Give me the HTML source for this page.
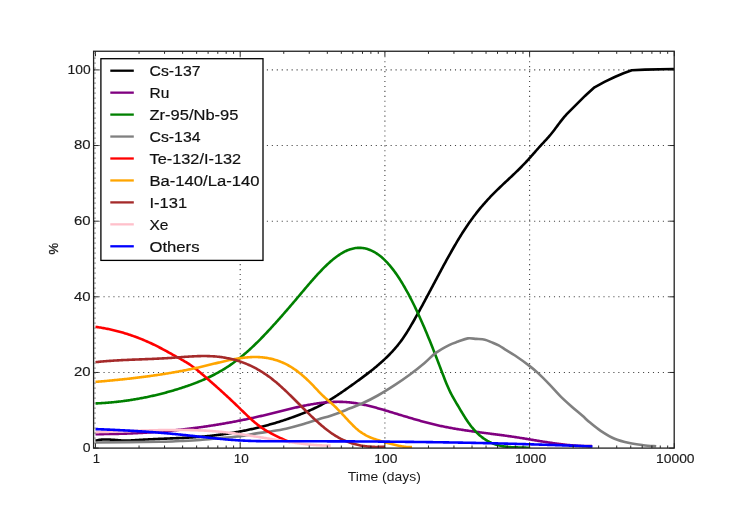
<!DOCTYPE html><html><head><meta charset="utf-8"><style>html,body{margin:0;padding:0;background:#fff;}svg{display:block;will-change:transform}</style></head><body>
<svg width="749" height="512" viewBox="0 0 749 512" font-family='"Liberation Sans", sans-serif'>
<rect width="749" height="512" fill="#fff"/>
<g stroke="#444" stroke-width="1.1" stroke-dasharray="1.1 3.85"><line x1="240.20" y1="51.25" x2="240.20" y2="448.1"/><line x1="384.90" y1="51.25" x2="384.90" y2="448.1"/><line x1="529.60" y1="51.25" x2="529.60" y2="448.1"/><line x1="93.6" y1="372.46" x2="674.2" y2="372.46"/><line x1="93.6" y1="296.82" x2="674.2" y2="296.82"/><line x1="93.6" y1="221.18" x2="674.2" y2="221.18"/><line x1="93.6" y1="145.54" x2="674.2" y2="145.54"/><line x1="93.6" y1="69.90" x2="674.2" y2="69.90"/></g>
<defs><clipPath id="ax"><rect x="93.6" y="51.25" width="580.6" height="396.85"/></clipPath></defs>
<g clip-path="url(#ax)" fill="none" stroke-width="2.6" stroke-linejoin="round" stroke-linecap="butt">
<path d="M95.50,440.70 L96.50,440.45 L97.50,440.22 L98.50,440.03 L99.50,439.87 L100.50,439.74 L101.50,439.64 L102.50,439.56 L103.50,439.51 L104.50,439.47 L105.50,439.46 L106.50,439.47 L107.50,439.49 L108.50,439.52 L109.50,439.57 L110.50,439.62 L111.50,439.69 L112.50,439.76 L113.50,439.84 L114.50,439.92 L115.50,440.01 L116.50,440.09 L117.50,440.17 L118.50,440.24 L119.50,440.31 L120.50,440.38 L121.50,440.43 L122.50,440.47 L123.50,440.50 L124.50,440.52 L125.50,440.52 L126.50,440.52 L127.50,440.51 L128.50,440.49 L129.50,440.46 L130.50,440.43 L131.50,440.39 L132.50,440.34 L133.50,440.29 L134.50,440.23 L135.50,440.17 L136.50,440.11 L137.50,440.05 L138.50,439.98 L139.50,439.92 L140.50,439.85 L141.50,439.79 L142.50,439.72 L143.50,439.66 L144.50,439.60 L145.50,439.54 L146.50,439.49 L147.50,439.43 L148.50,439.38 L149.50,439.32 L150.50,439.27 L151.50,439.22 L152.50,439.18 L153.50,439.13 L154.50,439.08 L155.50,439.04 L156.50,438.99 L157.50,438.95 L158.50,438.91 L159.50,438.86 L160.50,438.82 L161.50,438.78 L162.50,438.74 L163.50,438.70 L164.50,438.66 L165.50,438.62 L166.50,438.58 L167.50,438.54 L168.50,438.50 L169.50,438.46 L170.50,438.42 L171.50,438.38 L172.50,438.34 L173.50,438.30 L174.50,438.26 L175.50,438.21 L176.50,438.17 L177.50,438.13 L178.50,438.08 L179.50,438.04 L180.50,437.99 L181.50,437.95 L182.50,437.90 L183.50,437.85 L184.50,437.80 L185.50,437.75 L186.50,437.69 L187.50,437.64 L188.50,437.58 L189.50,437.53 L190.50,437.47 L191.50,437.40 L192.50,437.34 L193.50,437.28 L194.50,437.21 L195.50,437.14 L196.50,437.07 L197.50,437.00 L198.50,436.92 L199.50,436.84 L200.50,436.76 L201.50,436.68 L202.50,436.60 L203.50,436.51 L204.50,436.42 L205.50,436.32 L206.50,436.23 L207.50,436.13 L208.50,436.03 L209.50,435.93 L210.50,435.82 L211.50,435.71 L212.50,435.60 L213.50,435.49 L214.50,435.37 L215.50,435.26 L216.50,435.13 L217.50,435.01 L218.50,434.88 L219.50,434.75 L220.50,434.62 L221.50,434.49 L222.50,434.35 L223.50,434.21 L224.50,434.07 L225.50,433.92 L226.50,433.77 L227.50,433.62 L228.50,433.47 L229.50,433.31 L230.50,433.15 L231.50,432.99 L232.50,432.83 L233.50,432.66 L234.50,432.49 L235.50,432.31 L236.50,432.14 L237.50,431.96 L238.50,431.77 L239.50,431.59 L240.50,431.40 L241.50,431.21 L242.50,431.01 L243.50,430.82 L244.50,430.62 L245.50,430.41 L246.50,430.21 L247.50,430.00 L248.50,429.79 L249.50,429.57 L250.50,429.35 L251.50,429.13 L252.50,428.91 L253.50,428.68 L254.50,428.45 L255.50,428.22 L256.50,427.98 L257.50,427.74 L258.50,427.50 L259.50,427.25 L260.50,427.00 L261.50,426.75 L262.50,426.49 L263.50,426.24 L264.50,425.97 L265.50,425.71 L266.50,425.44 L267.50,425.17 L268.50,424.89 L269.50,424.61 L270.50,424.33 L271.50,424.05 L272.50,423.76 L273.50,423.47 L274.50,423.17 L275.50,422.88 L276.50,422.57 L277.50,422.27 L278.50,421.96 L279.50,421.65 L280.50,421.33 L281.50,421.02 L282.50,420.69 L283.50,420.37 L284.50,420.04 L285.50,419.71 L286.50,419.37 L287.50,419.03 L288.50,418.69 L289.50,418.35 L290.50,418.00 L291.50,417.64 L292.50,417.29 L293.50,416.93 L294.50,416.56 L295.50,416.20 L296.50,415.82 L297.50,415.45 L298.50,415.07 L299.50,414.69 L300.50,414.30 L301.50,413.90 L302.50,413.51 L303.50,413.10 L304.50,412.69 L305.50,412.28 L306.50,411.86 L307.50,411.43 L308.50,411.00 L309.50,410.56 L310.50,410.12 L311.50,409.67 L312.50,409.21 L313.50,408.74 L314.50,408.27 L315.50,407.79 L316.50,407.30 L317.50,406.81 L318.50,406.31 L319.50,405.79 L320.50,405.27 L321.50,404.75 L322.50,404.21 L323.50,403.66 L324.50,403.11 L325.50,402.54 L326.50,401.97 L327.50,401.39 L328.50,400.79 L329.50,400.19 L330.50,399.58 L331.50,398.96 L332.50,398.34 L333.50,397.71 L334.50,397.06 L335.50,396.42 L336.50,395.76 L337.50,395.10 L338.50,394.44 L339.50,393.76 L340.50,393.09 L341.50,392.40 L342.50,391.71 L343.50,391.02 L344.50,390.33 L345.50,389.63 L346.50,388.92 L347.50,388.22 L348.50,387.51 L349.50,386.80 L350.50,386.08 L351.50,385.37 L352.50,384.65 L353.50,383.93 L354.50,383.21 L355.50,382.49 L356.50,381.77 L357.50,381.04 L358.50,380.32 L359.50,379.59 L360.50,378.86 L361.50,378.12 L362.50,377.39 L363.50,376.64 L364.50,375.90 L365.50,375.14 L366.50,374.39 L367.50,373.62 L368.50,372.85 L369.50,372.08 L370.50,371.29 L371.50,370.50 L372.50,369.71 L373.50,368.90 L374.50,368.08 L375.50,367.26 L376.50,366.42 L377.50,365.58 L378.50,364.72 L379.50,363.86 L380.50,362.98 L381.50,362.09 L382.50,361.19 L383.50,360.28 L384.50,359.35 L385.50,358.41 L386.50,357.45 L387.50,356.48 L388.50,355.50 L389.50,354.49 L390.50,353.46 L391.50,352.41 L392.50,351.34 L393.50,350.24 L394.50,349.11 L395.50,347.96 L396.50,346.77 L397.50,345.56 L398.50,344.31 L399.50,343.03 L400.50,341.71 L401.50,340.36 L402.50,338.96 L403.50,337.53 L404.50,336.05 L405.50,334.53 L406.50,332.98 L407.50,331.38 L408.50,329.75 L409.50,328.10 L410.50,326.41 L411.50,324.71 L412.50,322.98 L413.50,321.24 L414.50,319.49 L415.50,317.72 L416.50,315.94 L417.50,314.14 L418.50,312.34 L419.50,310.52 L420.50,308.70 L421.50,306.87 L422.50,305.02 L423.50,303.18 L424.50,301.32 L425.50,299.46 L426.50,297.59 L427.50,295.72 L428.50,293.84 L429.50,291.96 L430.50,290.08 L431.50,288.20 L432.50,286.31 L433.50,284.43 L434.50,282.54 L435.50,280.66 L436.50,278.78 L437.50,276.90 L438.50,275.02 L439.50,273.15 L440.50,271.28 L441.50,269.42 L442.50,267.56 L443.50,265.71 L444.50,263.87 L445.50,262.04 L446.50,260.21 L447.50,258.40 L448.50,256.59 L449.50,254.80 L450.50,253.02 L451.50,251.25 L452.50,249.49 L453.50,247.75 L454.50,246.02 L455.50,244.31 L456.50,242.61 L457.50,240.93 L458.50,239.27 L459.50,237.63 L460.50,236.00 L461.50,234.40 L462.50,232.82 L463.50,231.25 L464.50,229.71 L465.50,228.19 L466.50,226.70 L467.50,225.22 L468.50,223.77 L469.50,222.34 L470.50,220.93 L471.50,219.55 L472.50,218.18 L473.50,216.83 L474.50,215.51 L475.50,214.20 L476.50,212.91 L477.50,211.65 L478.50,210.40 L479.50,209.16 L480.50,207.95 L481.50,206.75 L482.50,205.58 L483.50,204.41 L484.50,203.27 L485.50,202.14 L486.50,201.02 L487.50,199.93 L488.50,198.84 L489.50,197.77 L490.50,196.72 L491.50,195.68 L492.50,194.65 L493.50,193.63 L494.50,192.63 L495.50,191.63 L496.50,190.64 L497.50,189.67 L498.50,188.70 L499.50,187.73 L500.50,186.78 L501.50,185.82 L502.50,184.88 L503.50,183.93 L504.50,182.99 L505.50,182.06 L506.50,181.12 L507.50,180.19 L508.50,179.25 L509.50,178.31 L510.50,177.38 L511.50,176.44 L512.50,175.49 L513.50,174.55 L514.50,173.59 L515.50,172.64 L516.50,171.67 L517.50,170.70 L518.50,169.72 L519.50,168.73 L520.50,167.74 L521.50,166.73 L522.50,165.71 L523.50,164.68 L524.50,163.64 L525.50,162.58 L526.50,161.51 L527.50,160.43 L528.50,159.33 L529.50,158.21 L530.50,157.09 L531.50,155.96 L532.50,154.82 L533.50,153.68 L534.50,152.53 L535.50,151.39 L536.50,150.26 L537.50,149.12 L538.50,148.00 L539.50,146.89 L540.50,145.80 L541.50,144.71 L542.50,143.63 L543.50,142.56 L544.50,141.48 L545.50,140.40 L546.50,139.31 L547.50,138.20 L548.50,137.07 L549.50,135.92 L550.50,134.74 L551.50,133.52 L552.50,132.27 L553.50,130.98 L554.50,129.67 L555.50,128.33 L556.50,126.98 L557.50,125.63 L558.50,124.28 L559.50,122.94 L560.50,121.62 L561.50,120.33 L562.50,119.08 L563.50,117.87 L564.50,116.71 L565.50,115.58 L566.50,114.48 L567.50,113.41 L568.50,112.36 L569.50,111.34 L570.50,110.33 L571.50,109.33 L572.50,108.33 L573.50,107.34 L574.50,106.34 L575.50,105.34 L576.50,104.33 L577.50,103.33 L578.50,102.33 L579.50,101.32 L580.50,100.33 L581.50,99.34 L582.50,98.35 L583.50,97.38 L584.50,96.42 L585.50,95.47 L586.00,95.00 L594.50,87.30 L604.50,81.90 L614.70,77.00 L623.50,73.30 L631.80,70.20 L645.00,69.60 L674.00,69.00" stroke="#000000"/>
<path d="M95.50,434.09 L96.50,434.09 L97.50,434.10 L98.50,434.09 L99.50,434.09 L100.50,434.09 L101.50,434.09 L102.50,434.08 L103.50,434.08 L104.50,434.07 L105.50,434.06 L106.50,434.05 L107.50,434.04 L108.50,434.03 L109.50,434.01 L110.50,434.00 L111.50,433.98 L112.50,433.96 L113.50,433.94 L114.50,433.92 L115.50,433.90 L116.50,433.88 L117.50,433.86 L118.50,433.83 L119.50,433.80 L120.50,433.78 L121.50,433.75 L122.50,433.72 L123.50,433.69 L124.50,433.65 L125.50,433.62 L126.50,433.58 L127.50,433.55 L128.50,433.51 L129.50,433.47 L130.50,433.43 L131.50,433.39 L132.50,433.34 L133.50,433.30 L134.50,433.25 L135.50,433.21 L136.50,433.16 L137.50,433.11 L138.50,433.06 L139.50,433.00 L140.50,432.95 L141.50,432.89 L142.50,432.84 L143.50,432.78 L144.50,432.72 L145.50,432.66 L146.50,432.60 L147.50,432.54 L148.50,432.47 L149.50,432.41 L150.50,432.34 L151.50,432.27 L152.50,432.20 L153.50,432.13 L154.50,432.06 L155.50,431.98 L156.50,431.91 L157.50,431.83 L158.50,431.75 L159.50,431.67 L160.50,431.59 L161.50,431.51 L162.50,431.42 L163.50,431.34 L164.50,431.25 L165.50,431.17 L166.50,431.08 L167.50,430.99 L168.50,430.89 L169.50,430.80 L170.50,430.71 L171.50,430.61 L172.50,430.51 L173.50,430.41 L174.50,430.31 L175.50,430.21 L176.50,430.11 L177.50,430.00 L178.50,429.90 L179.50,429.79 L180.50,429.68 L181.50,429.57 L182.50,429.46 L183.50,429.34 L184.50,429.23 L185.50,429.11 L186.50,429.00 L187.50,428.88 L188.50,428.76 L189.50,428.63 L190.50,428.51 L191.50,428.39 L192.50,428.26 L193.50,428.13 L194.50,428.00 L195.50,427.87 L196.50,427.74 L197.50,427.61 L198.50,427.47 L199.50,427.33 L200.50,427.20 L201.50,427.06 L202.50,426.92 L203.50,426.77 L204.50,426.63 L205.50,426.48 L206.50,426.34 L207.50,426.19 L208.50,426.04 L209.50,425.89 L210.50,425.73 L211.50,425.58 L212.50,425.42 L213.50,425.27 L214.50,425.11 L215.50,424.95 L216.50,424.78 L217.50,424.62 L218.50,424.46 L219.50,424.29 L220.50,424.12 L221.50,423.95 L222.50,423.78 L223.50,423.61 L224.50,423.43 L225.50,423.26 L226.50,423.08 L227.50,422.90 L228.50,422.72 L229.50,422.54 L230.50,422.35 L231.50,422.17 L232.50,421.98 L233.50,421.79 L234.50,421.60 L235.50,421.41 L236.50,421.22 L237.50,421.03 L238.50,420.83 L239.50,420.63 L240.50,420.43 L241.50,420.23 L242.50,420.03 L243.50,419.83 L244.50,419.62 L245.50,419.41 L246.50,419.20 L247.50,418.99 L248.50,418.78 L249.50,418.57 L250.50,418.35 L251.50,418.14 L252.50,417.92 L253.50,417.70 L254.50,417.48 L255.50,417.25 L256.50,417.03 L257.50,416.80 L258.50,416.57 L259.50,416.34 L260.50,416.11 L261.50,415.88 L262.50,415.64 L263.50,415.41 L264.50,415.17 L265.50,414.93 L266.50,414.69 L267.50,414.45 L268.50,414.20 L269.50,413.96 L270.50,413.71 L271.50,413.46 L272.50,413.22 L273.50,412.97 L274.50,412.72 L275.50,412.47 L276.50,412.22 L277.50,411.97 L278.50,411.72 L279.50,411.47 L280.50,411.22 L281.50,410.97 L282.50,410.72 L283.50,410.47 L284.50,410.22 L285.50,409.97 L286.50,409.73 L287.50,409.48 L288.50,409.24 L289.50,409.00 L290.50,408.76 L291.50,408.52 L292.50,408.28 L293.50,408.05 L294.50,407.82 L295.50,407.59 L296.50,407.36 L297.50,407.13 L298.50,406.91 L299.50,406.69 L300.50,406.48 L301.50,406.26 L302.50,406.05 L303.50,405.85 L304.50,405.64 L305.50,405.44 L306.50,405.25 L307.50,405.06 L308.50,404.87 L309.50,404.68 L310.50,404.51 L311.50,404.33 L312.50,404.16 L313.50,404.00 L314.50,403.84 L315.50,403.68 L316.50,403.53 L317.50,403.39 L318.50,403.25 L319.50,403.11 L320.50,402.99 L321.50,402.86 L322.50,402.75 L323.50,402.64 L324.50,402.53 L325.50,402.44 L326.50,402.35 L327.50,402.26 L328.50,402.19 L329.50,402.11 L330.50,402.05 L331.50,402.00 L332.50,401.95 L333.50,401.91 L334.50,401.87 L335.50,401.85 L336.50,401.83 L337.50,401.82 L338.50,401.82 L339.50,401.83 L340.50,401.84 L341.50,401.87 L342.50,401.90 L343.50,401.94 L344.50,401.99 L345.50,402.05 L346.50,402.12 L347.50,402.20 L348.50,402.29 L349.50,402.38 L350.50,402.49 L351.50,402.61 L352.50,402.73 L353.50,402.87 L354.50,403.01 L355.50,403.16 L356.50,403.32 L357.50,403.49 L358.50,403.66 L359.50,403.84 L360.50,404.03 L361.50,404.23 L362.50,404.43 L363.50,404.64 L364.50,404.86 L365.50,405.08 L366.50,405.31 L367.50,405.54 L368.50,405.78 L369.50,406.03 L370.50,406.28 L371.50,406.53 L372.50,406.79 L373.50,407.05 L374.50,407.32 L375.50,407.59 L376.50,407.86 L377.50,408.14 L378.50,408.42 L379.50,408.71 L380.50,408.99 L381.50,409.28 L382.50,409.57 L383.50,409.87 L384.50,410.16 L385.50,410.46 L386.50,410.76 L387.50,411.06 L388.50,411.36 L389.50,411.66 L390.50,411.97 L391.50,412.27 L392.50,412.57 L393.50,412.88 L394.50,413.18 L395.50,413.49 L396.50,413.79 L397.50,414.10 L398.50,414.40 L399.50,414.70 L400.50,415.01 L401.50,415.31 L402.50,415.62 L403.50,415.92 L404.50,416.22 L405.50,416.52 L406.50,416.82 L407.50,417.12 L408.50,417.42 L409.50,417.72 L410.50,418.02 L411.50,418.31 L412.50,418.61 L413.50,418.90 L414.50,419.19 L415.50,419.48 L416.50,419.77 L417.50,420.05 L418.50,420.33 L419.50,420.62 L420.50,420.90 L421.50,421.17 L422.50,421.45 L423.50,421.72 L424.50,421.99 L425.50,422.26 L426.50,422.52 L427.50,422.79 L428.50,423.05 L429.50,423.30 L430.50,423.55 L431.50,423.80 L432.50,424.05 L433.50,424.29 L434.50,424.54 L435.50,424.77 L436.50,425.00 L437.50,425.23 L438.50,425.46 L439.50,425.68 L440.50,425.90 L441.50,426.11 L442.50,426.32 L443.50,426.53 L444.50,426.73 L445.50,426.94 L446.50,427.13 L447.50,427.33 L448.50,427.52 L449.50,427.71 L450.50,427.89 L451.50,428.07 L452.50,428.25 L453.50,428.43 L454.50,428.60 L455.50,428.77 L456.50,428.94 L457.50,429.11 L458.50,429.27 L459.50,429.43 L460.50,429.59 L461.50,429.75 L462.50,429.90 L463.50,430.06 L464.50,430.21 L465.50,430.36 L466.50,430.50 L467.50,430.65 L468.50,430.80 L469.50,430.94 L470.50,431.08 L471.50,431.22 L472.50,431.36 L473.50,431.49 L474.50,431.63 L475.50,431.77 L476.50,431.90 L477.50,432.03 L478.50,432.16 L479.50,432.30 L480.50,432.43 L481.50,432.56 L482.50,432.69 L483.50,432.81 L484.50,432.94 L485.50,433.07 L486.50,433.20 L487.50,433.33 L488.50,433.45 L489.50,433.58 L490.50,433.71 L491.50,433.84 L492.50,433.96 L493.50,434.09 L494.50,434.22 L495.50,434.35 L496.50,434.48 L497.50,434.61 L498.50,434.74 L499.50,434.87 L500.50,435.00 L501.50,435.14 L502.50,435.27 L503.50,435.40 L504.50,435.54 L505.50,435.68 L506.50,435.81 L507.50,435.95 L508.50,436.10 L509.50,436.24 L510.50,436.38 L511.50,436.53 L512.50,436.67 L513.50,436.82 L514.50,436.97 L515.50,437.13 L516.50,437.28 L517.50,437.43 L518.50,437.59 L519.50,437.75 L520.50,437.91 L521.50,438.07 L522.50,438.23 L523.50,438.39 L524.50,438.56 L525.50,438.72 L526.50,438.89 L527.50,439.05 L528.50,439.22 L529.50,439.38 L530.50,439.55 L531.50,439.71 L532.50,439.88 L533.50,440.05 L534.50,440.21 L535.50,440.38 L536.50,440.54 L537.50,440.71 L538.50,440.87 L539.50,441.03 L540.50,441.20 L541.50,441.36 L542.50,441.52 L543.50,441.68 L544.50,441.84 L545.50,441.99 L546.50,442.15 L547.50,442.30 L548.50,442.46 L549.50,442.61 L550.50,442.76 L551.50,442.90 L552.50,443.05 L553.50,443.19 L554.50,443.33 L555.50,443.47 L556.50,443.61 L557.50,443.74 L558.50,443.87 L559.50,444.00 L560.50,444.13 L561.50,444.25 L562.50,444.37 L563.50,444.49 L564.50,444.60 L565.50,444.71 L566.50,444.82 L567.50,444.92 L568.50,445.02 L569.50,445.12 L570.50,445.21 L571.50,445.30 L572.50,445.38 L573.50,445.46 L574.50,445.54 L575.50,445.61 L576.50,445.68 L577.50,445.74 L578.50,445.80 L579.50,445.86 L580.50,445.90 L581.50,445.95 L582.50,445.99 L583.50,446.02 L584.50,446.05 L585.50,446.07 L586.50,446.09 L587.50,446.11 L588.50,446.11 L589.50,446.11 L590.50,446.11 L591.50,446.10 L592.10,446.09" stroke="#800080"/>
<path d="M95.50,403.43 L96.50,403.39 L97.50,403.35 L98.50,403.30 L99.50,403.25 L100.50,403.19 L101.50,403.13 L102.50,403.07 L103.50,403.01 L104.50,402.94 L105.50,402.87 L106.50,402.79 L107.50,402.72 L108.50,402.64 L109.50,402.55 L110.50,402.46 L111.50,402.37 L112.50,402.28 L113.50,402.18 L114.50,402.08 L115.50,401.98 L116.50,401.87 L117.50,401.76 L118.50,401.65 L119.50,401.53 L120.50,401.42 L121.50,401.29 L122.50,401.17 L123.50,401.04 L124.50,400.91 L125.50,400.77 L126.50,400.63 L127.50,400.49 L128.50,400.34 L129.50,400.19 L130.50,400.04 L131.50,399.89 L132.50,399.73 L133.50,399.57 L134.50,399.40 L135.50,399.23 L136.50,399.06 L137.50,398.89 L138.50,398.71 L139.50,398.53 L140.50,398.34 L141.50,398.15 L142.50,397.96 L143.50,397.77 L144.50,397.57 L145.50,397.37 L146.50,397.16 L147.50,396.96 L148.50,396.75 L149.50,396.53 L150.50,396.31 L151.50,396.09 L152.50,395.87 L153.50,395.64 L154.50,395.41 L155.50,395.18 L156.50,394.94 L157.50,394.70 L158.50,394.45 L159.50,394.21 L160.50,393.95 L161.50,393.70 L162.50,393.44 L163.50,393.18 L164.50,392.92 L165.50,392.65 L166.50,392.38 L167.50,392.11 L168.50,391.83 L169.50,391.55 L170.50,391.26 L171.50,390.98 L172.50,390.69 L173.50,390.39 L174.50,390.09 L175.50,389.79 L176.50,389.49 L177.50,389.18 L178.50,388.87 L179.50,388.56 L180.50,388.24 L181.50,387.92 L182.50,387.59 L183.50,387.26 L184.50,386.93 L185.50,386.60 L186.50,386.26 L187.50,385.91 L188.50,385.57 L189.50,385.21 L190.50,384.86 L191.50,384.50 L192.50,384.13 L193.50,383.76 L194.50,383.38 L195.50,383.00 L196.50,382.61 L197.50,382.21 L198.50,381.81 L199.50,381.41 L200.50,381.00 L201.50,380.58 L202.50,380.15 L203.50,379.72 L204.50,379.28 L205.50,378.83 L206.50,378.38 L207.50,377.92 L208.50,377.45 L209.50,376.97 L210.50,376.49 L211.50,376.00 L212.50,375.49 L213.50,374.98 L214.50,374.47 L215.50,373.94 L216.50,373.40 L217.50,372.86 L218.50,372.31 L219.50,371.74 L220.50,371.17 L221.50,370.59 L222.50,369.99 L223.50,369.39 L224.50,368.78 L225.50,368.15 L226.50,367.52 L227.50,366.87 L228.50,366.22 L229.50,365.55 L230.50,364.87 L231.50,364.18 L232.50,363.48 L233.50,362.77 L234.50,362.05 L235.50,361.31 L236.50,360.56 L237.50,359.80 L238.50,359.03 L239.50,358.24 L240.50,357.44 L241.50,356.63 L242.50,355.80 L243.50,354.96 L244.50,354.11 L245.50,353.25 L246.50,352.38 L247.50,351.49 L248.50,350.60 L249.50,349.69 L250.50,348.77 L251.50,347.84 L252.50,346.90 L253.50,345.96 L254.50,345.00 L255.50,344.03 L256.50,343.05 L257.50,342.06 L258.50,341.07 L259.50,340.06 L260.50,339.05 L261.50,338.03 L262.50,337.00 L263.50,335.97 L264.50,334.92 L265.50,333.87 L266.50,332.82 L267.50,331.75 L268.50,330.68 L269.50,329.61 L270.50,328.52 L271.50,327.44 L272.50,326.34 L273.50,325.24 L274.50,324.14 L275.50,323.03 L276.50,321.92 L277.50,320.80 L278.50,319.68 L279.50,318.56 L280.50,317.43 L281.50,316.29 L282.50,315.15 L283.50,314.01 L284.50,312.87 L285.50,311.72 L286.50,310.57 L287.50,309.41 L288.50,308.25 L289.50,307.09 L290.50,305.93 L291.50,304.76 L292.50,303.59 L293.50,302.42 L294.50,301.24 L295.50,300.06 L296.50,298.88 L297.50,297.70 L298.50,296.51 L299.50,295.32 L300.50,294.13 L301.50,292.95 L302.50,291.76 L303.50,290.57 L304.50,289.39 L305.50,288.21 L306.50,287.03 L307.50,285.85 L308.50,284.68 L309.50,283.52 L310.50,282.36 L311.50,281.21 L312.50,280.07 L313.50,278.93 L314.50,277.81 L315.50,276.69 L316.50,275.59 L317.50,274.49 L318.50,273.41 L319.50,272.34 L320.50,271.28 L321.50,270.24 L322.50,269.21 L323.50,268.19 L324.50,267.20 L325.50,266.22 L326.50,265.25 L327.50,264.31 L328.50,263.38 L329.50,262.48 L330.50,261.59 L331.50,260.73 L332.50,259.88 L333.50,259.06 L334.50,258.26 L335.50,257.49 L336.50,256.74 L337.50,256.02 L338.50,255.32 L339.50,254.65 L340.50,254.00 L341.50,253.38 L342.50,252.80 L343.50,252.24 L344.50,251.71 L345.50,251.21 L346.50,250.75 L347.50,250.31 L348.50,249.91 L349.50,249.55 L350.50,249.21 L351.50,248.92 L352.50,248.65 L353.50,248.43 L354.50,248.24 L355.50,248.08 L356.50,247.96 L357.50,247.88 L358.50,247.84 L359.50,247.83 L360.50,247.86 L361.50,247.92 L362.50,248.02 L363.50,248.16 L364.50,248.33 L365.50,248.55 L366.50,248.80 L367.50,249.08 L368.50,249.41 L369.50,249.77 L370.50,250.17 L371.50,250.61 L372.50,251.09 L373.50,251.60 L374.50,252.16 L375.50,252.75 L376.50,253.38 L377.50,254.05 L378.50,254.76 L379.50,255.51 L380.50,256.29 L381.50,257.12 L382.50,257.98 L383.50,258.89 L384.50,259.83 L385.50,260.82 L386.50,261.84 L387.50,262.91 L388.50,264.01 L389.50,265.15 L390.50,266.34 L391.50,267.56 L392.50,268.83 L393.50,270.14 L394.50,271.48 L395.50,272.87 L396.50,274.29 L397.50,275.75 L398.50,277.25 L399.50,278.79 L400.50,280.36 L401.50,281.97 L402.50,283.62 L403.50,285.30 L404.50,287.02 L405.50,288.77 L406.50,290.56 L407.50,292.38 L408.50,294.23 L409.50,296.12 L410.50,298.04 L411.50,299.99 L412.50,301.98 L413.50,303.99 L414.50,306.04 L415.50,308.11 L416.50,310.22 L417.50,312.35 L418.50,314.52 L419.50,316.71 L420.50,318.93 L421.50,321.18 L422.50,323.45 L423.50,325.76 L424.50,328.09 L425.50,330.44 L426.50,332.82 L427.50,335.23 L428.50,337.65 L429.50,340.10 L430.50,342.58 L431.50,345.07 L432.50,347.58 L433.50,350.11 L434.50,352.66 L435.50,355.22 L436.50,357.80 L437.50,360.39 L438.50,362.99 L439.50,365.60 L440.50,368.22 L441.50,370.84 L442.50,373.46 L443.50,376.07 L444.50,378.66 L445.50,381.20 L446.50,383.67 L447.50,386.06 L448.50,388.35 L449.50,390.51 L450.50,392.56 L451.50,394.51 L452.50,396.38 L453.50,398.17 L454.50,399.92 L455.50,401.63 L456.50,403.32 L457.50,405.01 L458.50,406.70 L459.50,408.39 L460.50,410.08 L461.50,411.75 L462.50,413.42 L463.50,415.05 L464.50,416.67 L465.50,418.24 L466.50,419.78 L467.50,421.27 L468.50,422.70 L469.50,424.09 L470.50,425.42 L471.50,426.70 L472.50,427.92 L473.50,429.10 L474.50,430.23 L475.50,431.31 L476.50,432.34 L477.50,433.32 L478.50,434.26 L479.50,435.16 L480.50,436.02 L481.50,436.83 L482.50,437.60 L483.50,438.34 L484.50,439.03 L485.50,439.69 L486.50,440.31 L487.50,440.90 L488.50,441.45 L489.50,441.97 L490.50,442.45 L491.50,442.91 L492.50,443.33 L493.50,443.73 L494.50,444.10 L495.50,444.44 L496.50,444.76 L497.50,445.05 L498.50,445.32 L499.50,445.57 L500.50,445.80 L501.50,446.00 L502.50,446.19 L503.50,446.36 L504.50,446.51 L505.50,446.64 L506.50,446.76 L507.50,446.87 L508.50,446.96 L509.50,447.05 L510.50,447.12 L511.50,447.18 L512.50,447.23 L513.50,447.28 L514.50,447.32 L515.50,447.36 L516.50,447.39 L517.50,447.42 L518.50,447.44 L519.50,447.47 L520.50,447.49 L521.50,447.52 L522.50,447.55 L523.50,447.58 L524.50,447.61 L525.50,447.66 L526.50,447.71 L527.50,447.76 L528.50,447.83 L529.50,447.90 L530.00,447.94" stroke="#008000"/>
<path d="M95.50,442.50 C106.25,442.37 145.92,441.95 160.00,441.70 C174.08,441.45 173.33,441.28 180.00,441.00 C186.67,440.72 193.33,440.48 200.00,440.00 C206.67,439.52 213.33,438.73 220.00,438.10 C226.67,437.47 234.17,436.95 240.00,436.20 C245.83,435.45 250.00,434.38 255.00,433.60 C260.00,432.82 264.83,432.32 270.00,431.50 C275.17,430.68 280.67,429.85 286.00,428.70 C291.33,427.55 296.65,426.15 302.00,424.60 C307.35,423.05 313.43,420.83 318.10,419.40 C322.77,417.97 326.35,417.15 330.00,416.00 C333.65,414.85 336.67,413.78 340.00,412.50 C343.33,411.22 346.25,409.83 350.00,408.30 C353.75,406.77 357.87,405.43 362.50,403.30 C367.13,401.17 372.38,398.57 377.80,395.50 C383.22,392.43 389.63,388.40 395.00,384.90 C400.37,381.40 405.07,378.15 410.00,374.50 C414.93,370.85 420.31,366.60 424.60,363.00 C428.89,359.40 431.58,355.93 435.75,352.90 C439.92,349.87 445.86,346.68 449.60,344.80 C453.34,342.92 455.17,342.67 458.20,341.60 C461.23,340.53 464.78,338.85 467.80,338.40 C470.82,337.95 473.45,338.68 476.30,338.90 C479.15,339.12 482.40,339.17 484.90,339.70 C487.40,340.23 489.00,341.17 491.30,342.10 C493.60,343.03 496.22,343.97 498.70,345.30 C501.18,346.63 503.48,348.40 506.20,350.10 C508.92,351.80 511.18,352.92 515.00,355.50 C518.82,358.08 525.20,362.62 529.10,365.60 C533.00,368.58 535.02,370.27 538.40,373.40 C541.78,376.53 545.75,380.62 549.40,384.40 C553.05,388.18 556.66,392.46 560.30,396.10 C563.94,399.74 567.60,403.00 571.25,406.25 C574.90,409.50 579.08,412.88 582.20,415.60 C585.33,418.33 586.92,420.07 590.00,422.60 C593.08,425.13 596.60,428.10 600.70,430.80 C604.80,433.50 609.80,436.75 614.60,438.80 C619.40,440.85 624.70,442.03 629.50,443.10 C634.30,444.17 638.95,444.67 643.40,445.20 C647.85,445.73 654.07,446.12 656.20,446.30" stroke="#808080"/>
<path d="M95.50,326.80 L96.50,326.95 L97.50,327.10 L98.50,327.25 L99.50,327.41 L100.50,327.58 L101.50,327.75 L102.50,327.93 L103.50,328.11 L104.50,328.29 L105.50,328.48 L106.50,328.68 L107.50,328.88 L108.50,329.09 L109.50,329.30 L110.50,329.52 L111.50,329.75 L112.50,329.98 L113.50,330.21 L114.50,330.45 L115.50,330.70 L116.50,330.95 L117.50,331.21 L118.50,331.47 L119.50,331.74 L120.50,332.01 L121.50,332.30 L122.50,332.58 L123.50,332.87 L124.50,333.17 L125.50,333.47 L126.50,333.78 L127.50,334.10 L128.50,334.42 L129.50,334.75 L130.50,335.08 L131.50,335.42 L132.50,335.77 L133.50,336.12 L134.50,336.48 L135.50,336.84 L136.50,337.21 L137.50,337.59 L138.50,337.97 L139.50,338.36 L140.50,338.75 L141.50,339.15 L142.50,339.56 L143.50,339.97 L144.50,340.39 L145.50,340.82 L146.50,341.25 L147.50,341.69 L148.50,342.14 L149.50,342.59 L150.50,343.05 L151.50,343.52 L152.50,343.99 L153.50,344.47 L154.50,344.95 L155.50,345.44 L156.50,345.94 L157.50,346.45 L158.50,346.96 L159.50,347.47 L160.50,348.00 L161.50,348.52 L162.50,349.05 L163.50,349.59 L164.50,350.12 L165.50,350.67 L166.50,351.21 L167.50,351.76 L168.50,352.31 L169.50,352.86 L170.50,353.42 L171.50,353.97 L172.50,354.53 L173.50,355.09 L174.50,355.64 L175.50,356.20 L176.50,356.76 L177.50,357.32 L178.50,357.87 L179.50,358.43 L180.50,358.98 L181.50,359.54 L182.50,360.11 L183.50,360.68 L184.50,361.26 L185.50,361.85 L186.50,362.45 L187.50,363.07 L188.50,363.71 L189.50,364.36 L190.50,365.04 L191.50,365.74 L192.50,366.46 L193.50,367.20 L194.50,367.95 L195.50,368.73 L196.50,369.51 L197.50,370.31 L198.50,371.13 L199.50,371.95 L200.50,372.79 L201.50,373.63 L202.50,374.48 L203.50,375.34 L204.50,376.19 L205.50,377.06 L206.50,377.92 L207.50,378.79 L208.50,379.66 L209.50,380.53 L210.50,381.40 L211.50,382.28 L212.50,383.16 L213.50,384.04 L214.50,384.93 L215.50,385.81 L216.50,386.70 L217.50,387.60 L218.50,388.49 L219.50,389.39 L220.50,390.29 L221.50,391.20 L222.50,392.11 L223.50,393.02 L224.50,393.93 L225.50,394.85 L226.50,395.77 L227.50,396.70 L228.50,397.63 L229.50,398.56 L230.50,399.50 L231.50,400.44 L232.50,401.39 L233.50,402.33 L234.50,403.29 L235.50,404.24 L236.50,405.20 L237.50,406.17 L238.50,407.14 L239.50,408.11 L240.50,409.09 L241.50,410.06 L242.50,411.03 L243.50,412.00 L244.50,412.97 L245.50,413.93 L246.50,414.89 L247.50,415.84 L248.50,416.78 L249.50,417.71 L250.50,418.62 L251.50,419.53 L252.50,420.42 L253.50,421.29 L254.50,422.15 L255.50,422.99 L256.50,423.81 L257.50,424.62 L258.50,425.39 L259.50,426.15 L260.50,426.88 L261.50,427.59 L262.50,428.27 L263.50,428.93 L264.50,429.56 L265.50,430.18 L266.50,430.78 L267.50,431.36 L268.50,431.92 L269.50,432.47 L270.50,433.01 L271.50,433.54 L272.50,434.06 L273.50,434.57 L274.50,435.08 L275.50,435.58 L276.50,436.08 L277.50,436.58 L278.50,437.07 L279.50,437.57 L280.50,438.06 L281.50,438.54 L282.50,439.02 L283.50,439.48 L284.50,439.94 L285.50,440.38 L286.50,440.80 L287.50,441.20 L288.50,441.59 L289.50,441.95 L290.00,442.12" stroke="#ff0000"/>
<path d="M95.50,381.90 L96.50,381.81 L97.50,381.72 L98.50,381.64 L99.50,381.55 L100.50,381.46 L101.50,381.37 L102.50,381.28 L103.50,381.19 L104.50,381.10 L105.50,381.01 L106.50,380.92 L107.50,380.83 L108.50,380.73 L109.50,380.64 L110.50,380.54 L111.50,380.45 L112.50,380.35 L113.50,380.26 L114.50,380.16 L115.50,380.06 L116.50,379.96 L117.50,379.86 L118.50,379.76 L119.50,379.66 L120.50,379.55 L121.50,379.45 L122.50,379.35 L123.50,379.24 L124.50,379.13 L125.50,379.03 L126.50,378.92 L127.50,378.81 L128.50,378.70 L129.50,378.59 L130.50,378.47 L131.50,378.36 L132.50,378.24 L133.50,378.13 L134.50,378.01 L135.50,377.89 L136.50,377.77 L137.50,377.65 L138.50,377.53 L139.50,377.41 L140.50,377.28 L141.50,377.16 L142.50,377.03 L143.50,376.90 L144.50,376.78 L145.50,376.65 L146.50,376.51 L147.50,376.38 L148.50,376.25 L149.50,376.11 L150.50,375.97 L151.50,375.83 L152.50,375.69 L153.50,375.55 L154.50,375.41 L155.50,375.27 L156.50,375.12 L157.50,374.97 L158.50,374.82 L159.50,374.67 L160.50,374.52 L161.50,374.37 L162.50,374.21 L163.50,374.06 L164.50,373.90 L165.50,373.74 L166.50,373.58 L167.50,373.41 L168.50,373.25 L169.50,373.08 L170.50,372.92 L171.50,372.75 L172.50,372.57 L173.50,372.40 L174.50,372.22 L175.50,372.05 L176.50,371.87 L177.50,371.69 L178.50,371.51 L179.50,371.32 L180.50,371.14 L181.50,370.95 L182.50,370.76 L183.50,370.57 L184.50,370.37 L185.50,370.18 L186.50,369.98 L187.50,369.78 L188.50,369.58 L189.50,369.37 L190.50,369.17 L191.50,368.96 L192.50,368.75 L193.50,368.54 L194.50,368.32 L195.50,368.11 L196.50,367.89 L197.50,367.67 L198.50,367.44 L199.50,367.22 L200.50,366.99 L201.50,366.76 L202.50,366.53 L203.50,366.30 L204.50,366.06 L205.50,365.82 L206.50,365.58 L207.50,365.34 L208.50,365.10 L209.50,364.85 L210.50,364.60 L211.50,364.36 L212.50,364.11 L213.50,363.86 L214.50,363.61 L215.50,363.37 L216.50,363.12 L217.50,362.87 L218.50,362.63 L219.50,362.39 L220.50,362.15 L221.50,361.91 L222.50,361.67 L223.50,361.44 L224.50,361.20 L225.50,360.98 L226.50,360.75 L227.50,360.53 L228.50,360.31 L229.50,360.10 L230.50,359.89 L231.50,359.69 L232.50,359.49 L233.50,359.30 L234.50,359.12 L235.50,358.94 L236.50,358.76 L237.50,358.59 L238.50,358.43 L239.50,358.28 L240.50,358.13 L241.50,358.00 L242.50,357.87 L243.50,357.74 L244.50,357.63 L245.50,357.53 L246.50,357.43 L247.50,357.35 L248.50,357.27 L249.50,357.21 L250.50,357.15 L251.50,357.11 L252.50,357.07 L253.50,357.05 L254.50,357.04 L255.50,357.04 L256.50,357.05 L257.50,357.07 L258.50,357.11 L259.50,357.16 L260.50,357.22 L261.50,357.30 L262.50,357.39 L263.50,357.50 L264.50,357.61 L265.50,357.75 L266.50,357.90 L267.50,358.06 L268.50,358.24 L269.50,358.43 L270.50,358.64 L271.50,358.87 L272.50,359.11 L273.50,359.37 L274.50,359.65 L275.50,359.94 L276.50,360.26 L277.50,360.59 L278.50,360.93 L279.50,361.30 L280.50,361.69 L281.50,362.09 L282.50,362.52 L283.50,362.96 L284.50,363.42 L285.50,363.91 L286.50,364.41 L287.50,364.94 L288.50,365.49 L289.50,366.05 L290.50,366.64 L291.50,367.25 L292.50,367.89 L293.50,368.54 L294.50,369.22 L295.50,369.92 L296.50,370.65 L297.50,371.39 L298.50,372.16 L299.50,372.94 L300.50,373.75 L301.50,374.58 L302.50,375.42 L303.50,376.29 L304.50,377.18 L305.50,378.08 L306.50,379.01 L307.50,379.95 L308.50,380.91 L309.50,381.89 L310.50,382.88 L311.50,383.89 L312.50,384.92 L313.50,385.97 L314.50,387.03 L315.50,388.09 L316.50,389.16 L317.50,390.23 L318.50,391.29 L319.50,392.34 L320.50,393.37 L321.50,394.38 L322.50,395.36 L323.50,396.31 L324.50,397.23 L325.50,398.12 L326.50,398.99 L327.50,399.85 L328.50,400.70 L329.50,401.55 L330.50,402.41 L331.50,403.29 L332.50,404.19 L333.50,405.12 L334.50,406.07 L335.50,407.04 L336.50,408.03 L337.50,409.05 L338.50,410.07 L339.50,411.11 L340.50,412.17 L341.50,413.23 L342.50,414.30 L343.50,415.37 L344.50,416.45 L345.50,417.54 L346.50,418.62 L347.50,419.70 L348.50,420.77 L349.50,421.84 L350.50,422.90 L351.50,423.94 L352.50,424.96 L353.50,425.96 L354.50,426.93 L355.50,427.87 L356.50,428.76 L357.50,429.61 L358.50,430.42 L359.50,431.19 L360.50,431.92 L361.50,432.61 L362.50,433.27 L363.50,433.89 L364.50,434.48 L365.50,435.05 L366.50,435.58 L367.50,436.08 L368.50,436.56 L369.50,437.02 L370.50,437.45 L371.50,437.86 L372.50,438.25 L373.50,438.63 L374.50,438.99 L375.50,439.34 L376.50,439.67 L377.50,439.99 L378.50,440.31 L379.50,440.61 L380.50,440.91 L381.50,441.21 L382.50,441.50 L383.50,441.80 L384.50,442.09 L385.50,442.38 L386.50,442.68 L387.50,442.96 L388.50,443.25 L389.50,443.53 L390.50,443.81 L391.50,444.08 L392.50,444.34 L393.50,444.60 L394.50,444.85 L395.50,445.09 L396.50,445.32 L397.50,445.54 L398.50,445.75 L399.50,445.95 L400.50,446.14 L401.50,446.31 L402.50,446.47 L403.50,446.61 L404.50,446.74 L405.50,446.85 L406.50,446.95 L407.50,447.02 L408.50,447.08 L409.50,447.12 L410.50,447.14 L411.50,447.13 L412.00,447.12" stroke="#ffa500"/>
<path d="M95.50,362.17 L96.50,362.06 L97.50,361.95 L98.50,361.85 L99.50,361.75 L100.50,361.65 L101.50,361.56 L102.50,361.47 L103.50,361.38 L104.50,361.29 L105.50,361.21 L106.50,361.13 L107.50,361.05 L108.50,360.98 L109.50,360.90 L110.50,360.83 L111.50,360.76 L112.50,360.69 L113.50,360.63 L114.50,360.57 L115.50,360.50 L116.50,360.44 L117.50,360.39 L118.50,360.33 L119.50,360.28 L120.50,360.22 L121.50,360.17 L122.50,360.12 L123.50,360.07 L124.50,360.02 L125.50,359.98 L126.50,359.93 L127.50,359.89 L128.50,359.84 L129.50,359.80 L130.50,359.76 L131.50,359.72 L132.50,359.67 L133.50,359.63 L134.50,359.59 L135.50,359.56 L136.50,359.52 L137.50,359.48 L138.50,359.44 L139.50,359.40 L140.50,359.36 L141.50,359.33 L142.50,359.29 L143.50,359.25 L144.50,359.21 L145.50,359.17 L146.50,359.13 L147.50,359.10 L148.50,359.06 L149.50,359.02 L150.50,358.97 L151.50,358.93 L152.50,358.89 L153.50,358.85 L154.50,358.80 L155.50,358.76 L156.50,358.71 L157.50,358.67 L158.50,358.62 L159.50,358.57 L160.50,358.52 L161.50,358.47 L162.50,358.41 L163.50,358.36 L164.50,358.30 L165.50,358.25 L166.50,358.19 L167.50,358.12 L168.50,358.06 L169.50,358.00 L170.50,357.93 L171.50,357.86 L172.50,357.79 L173.50,357.72 L174.50,357.64 L175.50,357.57 L176.50,357.49 L177.50,357.42 L178.50,357.34 L179.50,357.27 L180.50,357.19 L181.50,357.11 L182.50,357.04 L183.50,356.97 L184.50,356.89 L185.50,356.82 L186.50,356.75 L187.50,356.69 L188.50,356.62 L189.50,356.56 L190.50,356.50 L191.50,356.44 L192.50,356.38 L193.50,356.33 L194.50,356.28 L195.50,356.24 L196.50,356.20 L197.50,356.16 L198.50,356.13 L199.50,356.10 L200.50,356.08 L201.50,356.06 L202.50,356.05 L203.50,356.04 L204.50,356.04 L205.50,356.05 L206.50,356.06 L207.50,356.08 L208.50,356.10 L209.50,356.14 L210.50,356.18 L211.50,356.22 L212.50,356.28 L213.50,356.34 L214.50,356.41 L215.50,356.49 L216.50,356.58 L217.50,356.68 L218.50,356.78 L219.50,356.90 L220.50,357.02 L221.50,357.15 L222.50,357.30 L223.50,357.45 L224.50,357.61 L225.50,357.78 L226.50,357.97 L227.50,358.16 L228.50,358.36 L229.50,358.58 L230.50,358.80 L231.50,359.04 L232.50,359.28 L233.50,359.54 L234.50,359.80 L235.50,360.08 L236.50,360.37 L237.50,360.67 L238.50,360.99 L239.50,361.31 L240.50,361.65 L241.50,362.00 L242.50,362.36 L243.50,362.73 L244.50,363.11 L245.50,363.51 L246.50,363.92 L247.50,364.34 L248.50,364.78 L249.50,365.22 L250.50,365.68 L251.50,366.16 L252.50,366.64 L253.50,367.14 L254.50,367.66 L255.50,368.19 L256.50,368.73 L257.50,369.28 L258.50,369.85 L259.50,370.43 L260.50,371.03 L261.50,371.64 L262.50,372.27 L263.50,372.91 L264.50,373.57 L265.50,374.24 L266.50,374.92 L267.50,375.62 L268.50,376.34 L269.50,377.07 L270.50,377.82 L271.50,378.58 L272.50,379.36 L273.50,380.15 L274.50,380.96 L275.50,381.79 L276.50,382.62 L277.50,383.48 L278.50,384.34 L279.50,385.22 L280.50,386.11 L281.50,387.01 L282.50,387.92 L283.50,388.84 L284.50,389.78 L285.50,390.72 L286.50,391.67 L287.50,392.62 L288.50,393.59 L289.50,394.56 L290.50,395.53 L291.50,396.51 L292.50,397.50 L293.50,398.49 L294.50,399.48 L295.50,400.48 L296.50,401.48 L297.50,402.48 L298.50,403.48 L299.50,404.48 L300.50,405.48 L301.50,406.48 L302.50,407.48 L303.50,408.48 L304.50,409.48 L305.50,410.47 L306.50,411.46 L307.50,412.44 L308.50,413.42 L309.50,414.40 L310.50,415.36 L311.50,416.32 L312.50,417.28 L313.50,418.22 L314.50,419.16 L315.50,420.09 L316.50,421.00 L317.50,421.91 L318.50,422.81 L319.50,423.69 L320.50,424.57 L321.50,425.43 L322.50,426.27 L323.50,427.11 L324.50,427.92 L325.50,428.73 L326.50,429.51 L327.50,430.28 L328.50,431.04 L329.50,431.77 L330.50,432.49 L331.50,433.19 L332.50,433.87 L333.50,434.53 L334.50,435.17 L335.50,435.79 L336.50,436.39 L337.50,436.97 L338.50,437.53 L339.50,438.07 L340.50,438.60 L341.50,439.10 L342.50,439.59 L343.50,440.06 L344.50,440.51 L345.50,440.94 L346.50,441.36 L347.50,441.75 L348.50,442.14 L349.50,442.50 L350.50,442.85 L351.50,443.18 L352.50,443.50 L353.50,443.80 L354.50,444.08 L355.50,444.35 L356.50,444.61 L357.50,444.85 L358.50,445.08 L359.50,445.29 L360.50,445.49 L361.50,445.67 L362.50,445.84 L363.50,446.00 L364.50,446.14 L365.50,446.27 L366.50,446.39 L367.50,446.50 L368.50,446.59 L369.50,446.67 L370.50,446.74 L371.50,446.80 L372.50,446.85 L373.50,446.89 L374.50,446.91 L375.50,446.93 L376.50,446.93 L377.50,446.93 L378.50,446.92 L379.50,446.89 L380.50,446.86 L381.50,446.82 L382.50,446.77 L383.50,446.71 L384.50,446.64 L385.00,446.60" stroke="#a52a2a"/>
<path d="M95.50,432.16 L96.50,432.14 L97.50,432.12 L98.50,432.09 L99.50,432.07 L100.50,432.05 L101.50,432.02 L102.50,432.00 L103.50,431.97 L104.50,431.94 L105.50,431.91 L106.50,431.89 L107.50,431.86 L108.50,431.83 L109.50,431.80 L110.50,431.76 L111.50,431.73 L112.50,431.70 L113.50,431.67 L114.50,431.63 L115.50,431.60 L116.50,431.57 L117.50,431.53 L118.50,431.50 L119.50,431.46 L120.50,431.42 L121.50,431.39 L122.50,431.35 L123.50,431.32 L124.50,431.28 L125.50,431.24 L126.50,431.21 L127.50,431.17 L128.50,431.13 L129.50,431.09 L130.50,431.06 L131.50,431.02 L132.50,430.98 L133.50,430.95 L134.50,430.91 L135.50,430.87 L136.50,430.84 L137.50,430.80 L138.50,430.77 L139.50,430.73 L140.50,430.70 L141.50,430.66 L142.50,430.63 L143.50,430.59 L144.50,430.56 L145.50,430.53 L146.50,430.50 L147.50,430.46 L148.50,430.43 L149.50,430.40 L150.50,430.37 L151.50,430.34 L152.50,430.32 L153.50,430.29 L154.50,430.26 L155.50,430.24 L156.50,430.21 L157.50,430.19 L158.50,430.16 L159.50,430.14 L160.50,430.12 L161.50,430.10 L162.50,430.08 L163.50,430.06 L164.50,430.04 L165.50,430.03 L166.50,430.01 L167.50,430.00 L168.50,429.99 L169.50,429.97 L170.50,429.96 L171.50,429.96 L172.50,429.95 L173.50,429.94 L174.50,429.94 L175.50,429.93 L176.50,429.93 L177.50,429.93 L178.50,429.93 L179.50,429.94 L180.50,429.94 L181.50,429.95 L182.50,429.96 L183.50,429.97 L184.50,429.98 L185.50,429.99 L186.50,430.01 L187.50,430.02 L188.50,430.04 L189.50,430.06 L190.50,430.08 L191.50,430.11 L192.50,430.14 L193.50,430.16 L194.50,430.19 L195.50,430.23 L196.50,430.26 L197.50,430.30 L198.50,430.34 L199.50,430.38 L200.50,430.42 L201.50,430.47 L202.50,430.52 L203.50,430.57 L204.50,430.62 L205.50,430.67 L206.50,430.73 L207.50,430.79 L208.50,430.85 L209.50,430.92 L210.50,430.99 L211.50,431.06 L212.50,431.13 L213.50,431.21 L214.50,431.28 L215.50,431.36 L216.50,431.45 L217.50,431.53 L218.50,431.62 L219.50,431.72 L220.50,431.81 L221.50,431.91 L222.50,432.01 L223.50,432.11 L224.50,432.22 L225.50,432.33 L226.50,432.44 L227.50,432.55 L228.50,432.67 L229.50,432.79 L230.50,432.91 L231.50,433.03 L232.50,433.16 L233.50,433.28 L234.50,433.41 L235.50,433.54 L236.50,433.68 L237.50,433.81 L238.50,433.95 L239.50,434.09 L240.50,434.23 L241.50,434.37 L242.50,434.52 L243.50,434.66 L244.50,434.81 L245.50,434.96 L246.50,435.11 L247.50,435.26 L248.50,435.41 L249.50,435.57 L250.50,435.72 L251.50,435.88 L252.50,436.03 L253.50,436.19 L254.50,436.35 L255.50,436.51 L256.50,436.67 L257.50,436.83 L258.50,436.99 L259.50,437.15 L260.50,437.32 L261.50,437.48 L262.50,437.64 L263.50,437.81 L264.50,437.97 L265.50,438.14 L266.50,438.30 L267.50,438.46 L268.50,438.63 L269.50,438.79 L270.50,438.96 L271.50,439.12 L272.50,439.29 L273.50,439.45 L274.50,439.62 L275.50,439.78 L276.50,439.94 L277.50,440.10 L278.50,440.27 L279.50,440.43 L280.50,440.59 L281.50,440.75 L282.50,440.91 L283.50,441.07 L284.50,441.22 L285.50,441.38 L286.50,441.53 L287.50,441.69 L288.50,441.84 L289.50,441.99 L290.50,442.14 L291.50,442.29 L292.50,442.44 L293.50,442.58 L294.50,442.72 L295.50,442.87 L296.50,443.00 L297.50,443.14 L298.50,443.27 L299.50,443.41 L300.50,443.53 L301.50,443.66 L302.50,443.78 L303.50,443.90 L304.50,444.02 L305.50,444.13 L306.50,444.24 L307.50,444.35 L308.50,444.45 L309.50,444.55 L310.50,444.65 L311.50,444.74 L312.50,444.83 L313.50,444.91 L314.50,444.99 L315.50,445.07 L316.50,445.14 L317.50,445.20 L318.50,445.26 L319.50,445.32 L320.50,445.37 L321.50,445.42 L322.50,445.46 L323.50,445.50 L324.50,445.53 L325.50,445.55 L326.50,445.57 L327.50,445.58 L328.50,445.59 L329.50,445.59 L330.50,445.59 L330.70,445.59" stroke="#ffc0cb"/>
<path d="M95.50,429.09 L96.50,429.13 L97.50,429.17 L98.50,429.21 L99.50,429.25 L100.50,429.29 L101.50,429.33 L102.50,429.37 L103.50,429.41 L104.50,429.45 L105.50,429.49 L106.50,429.53 L107.50,429.58 L108.50,429.62 L109.50,429.67 L110.50,429.71 L111.50,429.76 L112.50,429.80 L113.50,429.85 L114.50,429.89 L115.50,429.94 L116.50,429.99 L117.50,430.04 L118.50,430.09 L119.50,430.14 L120.50,430.19 L121.50,430.24 L122.50,430.29 L123.50,430.34 L124.50,430.40 L125.50,430.45 L126.50,430.50 L127.50,430.56 L128.50,430.61 L129.50,430.67 L130.50,430.73 L131.50,430.78 L132.50,430.84 L133.50,430.90 L134.50,430.96 L135.50,431.02 L136.50,431.08 L137.50,431.14 L138.50,431.21 L139.50,431.27 L140.50,431.34 L141.50,431.40 L142.50,431.47 L143.50,431.53 L144.50,431.60 L145.50,431.67 L146.50,431.74 L147.50,431.81 L148.50,431.88 L149.50,431.95 L150.50,432.02 L151.50,432.09 L152.50,432.17 L153.50,432.24 L154.50,432.32 L155.50,432.39 L156.50,432.47 L157.50,432.55 L158.50,432.63 L159.50,432.71 L160.50,432.79 L161.50,432.87 L162.50,432.96 L163.50,433.04 L164.50,433.12 L165.50,433.21 L166.50,433.30 L167.50,433.38 L168.50,433.47 L169.50,433.56 L170.50,433.65 L171.50,433.75 L172.50,433.84 L173.50,433.93 L174.50,434.03 L175.50,434.12 L176.50,434.22 L177.50,434.32 L178.50,434.42 L179.50,434.52 L180.50,434.62 L181.50,434.72 L182.50,434.82 L183.50,434.93 L184.50,435.03 L185.50,435.14 L186.50,435.24 L187.50,435.35 L188.50,435.46 L189.50,435.57 L190.50,435.68 L191.50,435.79 L192.50,435.90 L193.50,436.01 L194.50,436.12 L195.50,436.23 L196.50,436.34 L197.50,436.45 L198.50,436.56 L199.50,436.67 L200.50,436.78 L201.50,436.89 L202.50,437.00 L203.50,437.11 L204.50,437.22 L205.50,437.33 L206.50,437.44 L207.50,437.55 L208.50,437.66 L209.50,437.76 L210.50,437.87 L211.50,437.98 L212.50,438.08 L213.50,438.19 L214.50,438.29 L215.50,438.39 L216.50,438.49 L217.50,438.59 L218.50,438.69 L219.50,438.79 L220.50,438.89 L221.50,438.98 L222.50,439.07 L223.50,439.17 L224.50,439.26 L225.50,439.35 L226.50,439.43 L227.50,439.52 L228.50,439.60 L229.50,439.69 L230.50,439.77 L231.50,439.84 L232.50,439.92 L233.50,439.99 L234.50,440.07 L235.50,440.14 L236.50,440.20 L237.50,440.27 L238.50,440.33 L239.50,440.39 L240.50,440.45 L241.50,440.51 L242.50,440.56 L243.50,440.61 L244.50,440.66 L245.50,440.71 L246.50,440.75 L247.50,440.79 L248.50,440.83 L249.50,440.87 L250.50,440.91 L251.50,440.94 L252.50,440.97 L253.50,441.00 L254.50,441.03 L255.50,441.06 L256.50,441.08 L257.50,441.10 L258.50,441.13 L259.50,441.15 L260.50,441.17 L261.50,441.18 L262.50,441.20 L263.50,441.21 L264.50,441.23 L265.50,441.24 L266.50,441.25 L267.50,441.26 L268.50,441.27 L269.50,441.28 L270.50,441.28 L271.50,441.29 L272.50,441.29 L273.50,441.30 L274.50,441.30 L275.50,441.30 L276.50,441.31 L277.50,441.31 L278.50,441.31 L279.50,441.31 L280.50,441.31 L281.50,441.31 L282.50,441.31 L283.50,441.31 L284.50,441.31 L285.50,441.31 L286.50,441.31 L287.50,441.30 L288.50,441.30 L289.50,441.30 L290.50,441.30 L291.50,441.30 L292.50,441.30 L293.50,441.30 L294.50,441.30 L295.50,441.30 L296.50,441.30 L297.50,441.30 L298.50,441.30 L299.50,441.30 L300.50,441.30 L301.50,441.30 L302.50,441.30 L303.50,441.30 L304.50,441.30 L305.50,441.30 L306.50,441.30 L307.50,441.30 L308.50,441.30 L309.50,441.30 L310.50,441.30 L311.50,441.30 L312.50,441.30 L313.50,441.30 L314.50,441.30 L315.50,441.31 L316.50,441.31 L317.50,441.31 L318.50,441.31 L319.50,441.31 L320.50,441.31 L321.50,441.31 L322.50,441.32 L323.50,441.32 L324.50,441.32 L325.50,441.32 L326.50,441.32 L327.50,441.33 L328.50,441.33 L329.50,441.33 L330.50,441.33 L331.50,441.34 L332.50,441.34 L333.50,441.34 L334.50,441.34 L335.50,441.35 L336.50,441.35 L337.50,441.35 L338.50,441.36 L339.50,441.36 L340.50,441.36 L341.50,441.37 L342.50,441.37 L343.50,441.38 L344.50,441.38 L345.50,441.38 L346.50,441.39 L347.50,441.39 L348.50,441.40 L349.50,441.40 L350.50,441.40 L351.50,441.41 L352.50,441.41 L353.50,441.42 L354.50,441.42 L355.50,441.43 L356.50,441.43 L357.50,441.44 L358.50,441.45 L359.50,441.45 L360.50,441.46 L361.50,441.46 L362.50,441.47 L363.50,441.47 L364.50,441.48 L365.50,441.49 L366.50,441.49 L367.50,441.50 L368.50,441.50 L369.50,441.51 L370.50,441.52 L371.50,441.52 L372.50,441.53 L373.50,441.54 L374.50,441.55 L375.50,441.55 L376.50,441.56 L377.50,441.57 L378.50,441.58 L379.50,441.58 L380.50,441.59 L381.50,441.60 L382.50,441.61 L383.50,441.62 L384.50,441.62 L385.50,441.63 L386.50,441.64 L387.50,441.65 L388.50,441.66 L389.50,441.67 L390.50,441.68 L391.50,441.68 L392.50,441.69 L393.50,441.70 L394.50,441.71 L395.50,441.72 L396.50,441.73 L397.50,441.74 L398.50,441.75 L399.50,441.76 L400.50,441.77 L401.50,441.78 L402.50,441.79 L403.50,441.80 L404.50,441.81 L405.50,441.83 L406.50,441.84 L407.50,441.85 L408.50,441.86 L409.50,441.87 L410.50,441.88 L411.50,441.89 L412.50,441.90 L413.50,441.92 L414.50,441.93 L415.50,441.94 L416.50,441.95 L417.50,441.97 L418.50,441.98 L419.50,441.99 L420.50,442.00 L421.50,442.02 L422.50,442.03 L423.50,442.04 L424.50,442.06 L425.50,442.07 L426.50,442.08 L427.50,442.10 L428.50,442.11 L429.50,442.12 L430.50,442.14 L431.50,442.15 L432.50,442.17 L433.50,442.18 L434.50,442.20 L435.50,442.21 L436.50,442.23 L437.50,442.24 L438.50,442.26 L439.50,442.27 L440.50,442.29 L441.50,442.30 L442.50,442.32 L443.50,442.33 L444.50,442.35 L445.50,442.37 L446.50,442.38 L447.50,442.40 L448.50,442.42 L449.50,442.43 L450.50,442.45 L451.50,442.47 L452.50,442.48 L453.50,442.50 L454.50,442.52 L455.50,442.54 L456.50,442.55 L457.50,442.57 L458.50,442.59 L459.50,442.61 L460.50,442.63 L461.50,442.65 L462.50,442.66 L463.50,442.68 L464.50,442.70 L465.50,442.72 L466.50,442.74 L467.50,442.76 L468.50,442.78 L469.50,442.80 L470.50,442.82 L471.50,442.84 L472.50,442.86 L473.50,442.88 L474.50,442.90 L475.50,442.92 L476.50,442.94 L477.50,442.96 L478.50,442.98 L479.50,443.00 L480.50,443.03 L481.50,443.05 L482.50,443.07 L483.50,443.09 L484.50,443.11 L485.50,443.14 L486.50,443.16 L487.50,443.18 L488.50,443.20 L489.50,443.23 L490.50,443.25 L491.50,443.27 L492.50,443.30 L493.50,443.32 L494.50,443.34 L495.50,443.37 L496.50,443.39 L497.50,443.41 L498.50,443.44 L499.50,443.46 L500.50,443.49 L501.50,443.51 L502.50,443.54 L503.50,443.56 L504.50,443.59 L505.50,443.61 L506.50,443.64 L507.50,443.66 L508.50,443.69 L509.50,443.72 L510.50,443.74 L511.50,443.77 L512.50,443.80 L513.50,443.82 L514.50,443.85 L515.50,443.88 L516.50,443.90 L517.50,443.93 L518.50,443.96 L519.50,443.99 L520.50,444.02 L521.50,444.04 L522.50,444.07 L523.50,444.10 L524.50,444.13 L525.50,444.16 L526.50,444.19 L527.50,444.22 L528.50,444.25 L529.50,444.28 L530.50,444.31 L531.50,444.34 L532.50,444.37 L533.50,444.40 L534.50,444.43 L535.50,444.46 L536.50,444.49 L537.50,444.52 L538.50,444.55 L539.50,444.58 L540.50,444.61 L541.50,444.64 L542.50,444.68 L543.50,444.71 L544.50,444.74 L545.50,444.77 L546.50,444.81 L547.50,444.84 L548.50,444.87 L549.50,444.90 L550.50,444.94 L551.50,444.97 L552.50,445.01 L553.50,445.04 L554.50,445.07 L555.50,445.11 L556.50,445.14 L557.50,445.18 L558.50,445.21 L559.50,445.25 L560.50,445.28 L561.50,445.32 L562.50,445.35 L563.50,445.39 L564.50,445.43 L565.50,445.46 L566.50,445.50 L567.50,445.53 L568.50,445.57 L569.50,445.61 L570.50,445.65 L571.50,445.68 L572.50,445.72 L573.50,445.76 L574.50,445.80 L575.50,445.83 L576.50,445.87 L577.50,445.91 L578.50,445.95 L579.50,445.99 L580.50,446.03 L581.50,446.07 L582.50,446.11 L583.50,446.15 L584.50,446.19 L585.50,446.23 L586.50,446.27 L587.50,446.31 L588.50,446.35 L589.50,446.39 L590.50,446.43 L591.50,446.47 L592.50,446.51" stroke="#0000ff"/>
</g>
<g stroke="#111" stroke-width="0.9"><line x1="95.50" y1="448.1" x2="95.50" y2="443.1"/><line x1="95.50" y1="51.25" x2="95.50" y2="56.25"/><line x1="240.20" y1="448.1" x2="240.20" y2="443.1"/><line x1="240.20" y1="51.25" x2="240.20" y2="56.25"/><line x1="384.90" y1="448.1" x2="384.90" y2="443.1"/><line x1="384.90" y1="51.25" x2="384.90" y2="56.25"/><line x1="529.60" y1="448.1" x2="529.60" y2="443.1"/><line x1="529.60" y1="51.25" x2="529.60" y2="56.25"/><line x1="674.30" y1="448.1" x2="674.30" y2="443.1"/><line x1="674.30" y1="51.25" x2="674.30" y2="56.25"/><line x1="139.06" y1="448.1" x2="139.06" y2="445.5"/><line x1="139.06" y1="51.25" x2="139.06" y2="53.85"/><line x1="164.54" y1="448.1" x2="164.54" y2="445.5"/><line x1="164.54" y1="51.25" x2="164.54" y2="53.85"/><line x1="182.62" y1="448.1" x2="182.62" y2="445.5"/><line x1="182.62" y1="51.25" x2="182.62" y2="53.85"/><line x1="196.64" y1="448.1" x2="196.64" y2="445.5"/><line x1="196.64" y1="51.25" x2="196.64" y2="53.85"/><line x1="208.10" y1="448.1" x2="208.10" y2="445.5"/><line x1="208.10" y1="51.25" x2="208.10" y2="53.85"/><line x1="217.79" y1="448.1" x2="217.79" y2="445.5"/><line x1="217.79" y1="51.25" x2="217.79" y2="53.85"/><line x1="226.18" y1="448.1" x2="226.18" y2="445.5"/><line x1="226.18" y1="51.25" x2="226.18" y2="53.85"/><line x1="233.58" y1="448.1" x2="233.58" y2="445.5"/><line x1="233.58" y1="51.25" x2="233.58" y2="53.85"/><line x1="283.76" y1="448.1" x2="283.76" y2="445.5"/><line x1="283.76" y1="51.25" x2="283.76" y2="53.85"/><line x1="309.24" y1="448.1" x2="309.24" y2="445.5"/><line x1="309.24" y1="51.25" x2="309.24" y2="53.85"/><line x1="327.32" y1="448.1" x2="327.32" y2="445.5"/><line x1="327.32" y1="51.25" x2="327.32" y2="53.85"/><line x1="341.34" y1="448.1" x2="341.34" y2="445.5"/><line x1="341.34" y1="51.25" x2="341.34" y2="53.85"/><line x1="352.80" y1="448.1" x2="352.80" y2="445.5"/><line x1="352.80" y1="51.25" x2="352.80" y2="53.85"/><line x1="362.49" y1="448.1" x2="362.49" y2="445.5"/><line x1="362.49" y1="51.25" x2="362.49" y2="53.85"/><line x1="370.88" y1="448.1" x2="370.88" y2="445.5"/><line x1="370.88" y1="51.25" x2="370.88" y2="53.85"/><line x1="378.28" y1="448.1" x2="378.28" y2="445.5"/><line x1="378.28" y1="51.25" x2="378.28" y2="53.85"/><line x1="428.46" y1="448.1" x2="428.46" y2="445.5"/><line x1="428.46" y1="51.25" x2="428.46" y2="53.85"/><line x1="453.94" y1="448.1" x2="453.94" y2="445.5"/><line x1="453.94" y1="51.25" x2="453.94" y2="53.85"/><line x1="472.02" y1="448.1" x2="472.02" y2="445.5"/><line x1="472.02" y1="51.25" x2="472.02" y2="53.85"/><line x1="486.04" y1="448.1" x2="486.04" y2="445.5"/><line x1="486.04" y1="51.25" x2="486.04" y2="53.85"/><line x1="497.50" y1="448.1" x2="497.50" y2="445.5"/><line x1="497.50" y1="51.25" x2="497.50" y2="53.85"/><line x1="507.19" y1="448.1" x2="507.19" y2="445.5"/><line x1="507.19" y1="51.25" x2="507.19" y2="53.85"/><line x1="515.58" y1="448.1" x2="515.58" y2="445.5"/><line x1="515.58" y1="51.25" x2="515.58" y2="53.85"/><line x1="522.98" y1="448.1" x2="522.98" y2="445.5"/><line x1="522.98" y1="51.25" x2="522.98" y2="53.85"/><line x1="573.16" y1="448.1" x2="573.16" y2="445.5"/><line x1="573.16" y1="51.25" x2="573.16" y2="53.85"/><line x1="598.64" y1="448.1" x2="598.64" y2="445.5"/><line x1="598.64" y1="51.25" x2="598.64" y2="53.85"/><line x1="616.72" y1="448.1" x2="616.72" y2="445.5"/><line x1="616.72" y1="51.25" x2="616.72" y2="53.85"/><line x1="630.74" y1="448.1" x2="630.74" y2="445.5"/><line x1="630.74" y1="51.25" x2="630.74" y2="53.85"/><line x1="642.20" y1="448.1" x2="642.20" y2="445.5"/><line x1="642.20" y1="51.25" x2="642.20" y2="53.85"/><line x1="651.89" y1="448.1" x2="651.89" y2="445.5"/><line x1="651.89" y1="51.25" x2="651.89" y2="53.85"/><line x1="660.28" y1="448.1" x2="660.28" y2="445.5"/><line x1="660.28" y1="51.25" x2="660.28" y2="53.85"/><line x1="667.68" y1="448.1" x2="667.68" y2="445.5"/><line x1="667.68" y1="51.25" x2="667.68" y2="53.85"/><line x1="93.6" y1="448.10" x2="98.6" y2="448.10"/><line x1="674.2" y1="448.10" x2="669.2" y2="448.10"/><line x1="93.6" y1="372.46" x2="98.6" y2="372.46"/><line x1="674.2" y1="372.46" x2="669.2" y2="372.46"/><line x1="93.6" y1="296.82" x2="98.6" y2="296.82"/><line x1="674.2" y1="296.82" x2="669.2" y2="296.82"/><line x1="93.6" y1="221.18" x2="98.6" y2="221.18"/><line x1="674.2" y1="221.18" x2="669.2" y2="221.18"/><line x1="93.6" y1="145.54" x2="98.6" y2="145.54"/><line x1="674.2" y1="145.54" x2="669.2" y2="145.54"/><line x1="93.6" y1="69.90" x2="98.6" y2="69.90"/><line x1="674.2" y1="69.90" x2="669.2" y2="69.90"/></g>
<g stroke="#777" stroke-width="0.8"><line x1="93.6" y1="448.10" x2="96.0" y2="448.10"/><line x1="93.6" y1="443.10" x2="96.0" y2="443.10"/><line x1="93.6" y1="438.10" x2="96.0" y2="438.10"/><line x1="93.6" y1="433.10" x2="96.0" y2="433.10"/><line x1="93.6" y1="428.10" x2="96.0" y2="428.10"/><line x1="93.6" y1="423.10" x2="96.0" y2="423.10"/><line x1="93.6" y1="418.10" x2="96.0" y2="418.10"/><line x1="93.6" y1="413.10" x2="96.0" y2="413.10"/><line x1="93.6" y1="408.10" x2="96.0" y2="408.10"/><line x1="93.6" y1="403.10" x2="96.0" y2="403.10"/><line x1="93.6" y1="398.10" x2="96.0" y2="398.10"/><line x1="93.6" y1="393.10" x2="96.0" y2="393.10"/><line x1="93.6" y1="388.10" x2="96.0" y2="388.10"/><line x1="93.6" y1="383.10" x2="96.0" y2="383.10"/><line x1="93.6" y1="378.10" x2="96.0" y2="378.10"/><line x1="93.6" y1="373.10" x2="96.0" y2="373.10"/><line x1="93.6" y1="368.10" x2="96.0" y2="368.10"/><line x1="93.6" y1="363.10" x2="96.0" y2="363.10"/><line x1="93.6" y1="358.10" x2="96.0" y2="358.10"/><line x1="93.6" y1="353.10" x2="96.0" y2="353.10"/><line x1="93.6" y1="348.10" x2="96.0" y2="348.10"/><line x1="93.6" y1="343.10" x2="96.0" y2="343.10"/><line x1="93.6" y1="338.10" x2="96.0" y2="338.10"/><line x1="93.6" y1="333.10" x2="96.0" y2="333.10"/><line x1="93.6" y1="328.10" x2="96.0" y2="328.10"/><line x1="93.6" y1="323.10" x2="96.0" y2="323.10"/><line x1="93.6" y1="318.10" x2="96.0" y2="318.10"/><line x1="93.6" y1="313.10" x2="96.0" y2="313.10"/><line x1="93.6" y1="308.10" x2="96.0" y2="308.10"/><line x1="93.6" y1="303.10" x2="96.0" y2="303.10"/><line x1="93.6" y1="298.10" x2="96.0" y2="298.10"/><line x1="93.6" y1="293.10" x2="96.0" y2="293.10"/><line x1="93.6" y1="288.10" x2="96.0" y2="288.10"/><line x1="93.6" y1="283.10" x2="96.0" y2="283.10"/><line x1="93.6" y1="278.10" x2="96.0" y2="278.10"/><line x1="93.6" y1="273.10" x2="96.0" y2="273.10"/><line x1="93.6" y1="268.10" x2="96.0" y2="268.10"/><line x1="93.6" y1="263.10" x2="96.0" y2="263.10"/><line x1="93.6" y1="258.10" x2="96.0" y2="258.10"/><line x1="93.6" y1="253.10" x2="96.0" y2="253.10"/><line x1="93.6" y1="248.10" x2="96.0" y2="248.10"/><line x1="93.6" y1="243.10" x2="96.0" y2="243.10"/><line x1="93.6" y1="238.10" x2="96.0" y2="238.10"/><line x1="93.6" y1="233.10" x2="96.0" y2="233.10"/><line x1="93.6" y1="228.10" x2="96.0" y2="228.10"/><line x1="93.6" y1="223.10" x2="96.0" y2="223.10"/><line x1="93.6" y1="218.10" x2="96.0" y2="218.10"/><line x1="93.6" y1="213.10" x2="96.0" y2="213.10"/><line x1="93.6" y1="208.10" x2="96.0" y2="208.10"/><line x1="93.6" y1="203.10" x2="96.0" y2="203.10"/><line x1="93.6" y1="198.10" x2="96.0" y2="198.10"/><line x1="93.6" y1="193.10" x2="96.0" y2="193.10"/><line x1="93.6" y1="188.10" x2="96.0" y2="188.10"/><line x1="93.6" y1="183.10" x2="96.0" y2="183.10"/><line x1="93.6" y1="178.10" x2="96.0" y2="178.10"/><line x1="93.6" y1="173.10" x2="96.0" y2="173.10"/><line x1="93.6" y1="168.10" x2="96.0" y2="168.10"/><line x1="93.6" y1="163.10" x2="96.0" y2="163.10"/><line x1="93.6" y1="158.10" x2="96.0" y2="158.10"/><line x1="93.6" y1="153.10" x2="96.0" y2="153.10"/><line x1="93.6" y1="148.10" x2="96.0" y2="148.10"/><line x1="93.6" y1="143.10" x2="96.0" y2="143.10"/><line x1="93.6" y1="138.10" x2="96.0" y2="138.10"/><line x1="93.6" y1="133.10" x2="96.0" y2="133.10"/><line x1="93.6" y1="128.10" x2="96.0" y2="128.10"/><line x1="93.6" y1="123.10" x2="96.0" y2="123.10"/><line x1="93.6" y1="118.10" x2="96.0" y2="118.10"/><line x1="93.6" y1="113.10" x2="96.0" y2="113.10"/><line x1="93.6" y1="108.10" x2="96.0" y2="108.10"/><line x1="93.6" y1="103.10" x2="96.0" y2="103.10"/><line x1="93.6" y1="98.10" x2="96.0" y2="98.10"/><line x1="93.6" y1="93.10" x2="96.0" y2="93.10"/><line x1="93.6" y1="88.10" x2="96.0" y2="88.10"/><line x1="93.6" y1="83.10" x2="96.0" y2="83.10"/><line x1="93.6" y1="78.10" x2="96.0" y2="78.10"/><line x1="93.6" y1="73.10" x2="96.0" y2="73.10"/><line x1="93.6" y1="68.10" x2="96.0" y2="68.10"/><line x1="93.6" y1="63.10" x2="96.0" y2="63.10"/><line x1="93.6" y1="58.10" x2="96.0" y2="58.10"/><line x1="93.6" y1="53.10" x2="96.0" y2="53.10"/></g>
<rect x="93.6" y="51.25" width="580.60" height="396.85" fill="none" stroke="#222" stroke-width="1.3"/>
<g font-size="13" fill="#1a1a1a" stroke="#1a1a1a" stroke-width="0.15"><text x="96.50" y="463" text-anchor="middle" textLength="7.30" lengthAdjust="spacingAndGlyphs">1</text><text x="241.20" y="463" text-anchor="middle" textLength="15.10" lengthAdjust="spacingAndGlyphs">10</text><text x="385.90" y="463" text-anchor="middle" textLength="23.10" lengthAdjust="spacingAndGlyphs">100</text><text x="530.60" y="463" text-anchor="middle" textLength="31.30" lengthAdjust="spacingAndGlyphs">1000</text><text x="675.30" y="463" text-anchor="middle" textLength="38.50" lengthAdjust="spacingAndGlyphs">10000</text><text x="90.6" y="451.85" text-anchor="end" textLength="7.80" lengthAdjust="spacingAndGlyphs">0</text><text x="90.6" y="376.21" text-anchor="end" textLength="16.60" lengthAdjust="spacingAndGlyphs">20</text><text x="90.6" y="300.57" text-anchor="end" textLength="16.60" lengthAdjust="spacingAndGlyphs">40</text><text x="90.6" y="224.93" text-anchor="end" textLength="16.60" lengthAdjust="spacingAndGlyphs">60</text><text x="90.6" y="149.29" text-anchor="end" textLength="16.60" lengthAdjust="spacingAndGlyphs">80</text><text x="90.6" y="73.65" text-anchor="end" textLength="23.10" lengthAdjust="spacingAndGlyphs">100</text></g>
<text x="384.3" y="481.2" text-anchor="middle" font-size="12.7" fill="#1a1a1a" textLength="73" lengthAdjust="spacingAndGlyphs">Time (days)</text>
<text transform="translate(57.8,248.7) rotate(-90)" text-anchor="middle" font-size="13" fill="#1a1a1a" stroke="#1a1a1a" stroke-width="0.3">%</text>
<rect x="100.9" y="58.7" width="162.10" height="201.70" fill="#fff" stroke="#000" stroke-width="1.3"/>
<g><line x1="110.3" y1="70.70" x2="133.8" y2="70.70" stroke="#000000" stroke-width="2.3"/><text x="149.5" y="76.30" font-size="15.5" fill="#111" stroke="#111" stroke-width="0.2" textLength="51" lengthAdjust="spacingAndGlyphs">Cs-137</text><line x1="110.3" y1="92.65" x2="133.8" y2="92.65" stroke="#800080" stroke-width="2.3"/><text x="149.5" y="98.25" font-size="15.5" fill="#111" stroke="#111" stroke-width="0.2">Ru</text><line x1="110.3" y1="114.60" x2="133.8" y2="114.60" stroke="#008000" stroke-width="2.3"/><text x="149.5" y="120.20" font-size="15.5" fill="#111" stroke="#111" stroke-width="0.2" textLength="88.9" lengthAdjust="spacingAndGlyphs">Zr-95/Nb-95</text><line x1="110.3" y1="136.55" x2="133.8" y2="136.55" stroke="#808080" stroke-width="2.3"/><text x="149.5" y="142.15" font-size="15.5" fill="#111" stroke="#111" stroke-width="0.2" textLength="51" lengthAdjust="spacingAndGlyphs">Cs-134</text><line x1="110.3" y1="158.50" x2="133.8" y2="158.50" stroke="#ff0000" stroke-width="2.3"/><text x="149.5" y="164.10" font-size="15.5" fill="#111" stroke="#111" stroke-width="0.2" textLength="91.6" lengthAdjust="spacingAndGlyphs">Te-132/I-132</text><line x1="110.3" y1="180.45" x2="133.8" y2="180.45" stroke="#ffa500" stroke-width="2.3"/><text x="149.5" y="186.05" font-size="15.5" fill="#111" stroke="#111" stroke-width="0.2" textLength="110" lengthAdjust="spacingAndGlyphs">Ba-140/La-140</text><line x1="110.3" y1="202.40" x2="133.8" y2="202.40" stroke="#a52a2a" stroke-width="2.3"/><text x="149.5" y="208.00" font-size="15.5" fill="#111" stroke="#111" stroke-width="0.2" textLength="37.6" lengthAdjust="spacingAndGlyphs">I-131</text><line x1="110.3" y1="224.35" x2="133.8" y2="224.35" stroke="#ffc0cb" stroke-width="2.3"/><text x="149.5" y="229.95" font-size="15.5" fill="#111" stroke="#111" stroke-width="0.2">Xe</text><line x1="110.3" y1="246.30" x2="133.8" y2="246.30" stroke="#0000ff" stroke-width="2.3"/><text x="149.5" y="251.90" font-size="15.5" fill="#111" stroke="#111" stroke-width="0.2" textLength="50" lengthAdjust="spacingAndGlyphs">Others</text></g>
</svg></body></html>
